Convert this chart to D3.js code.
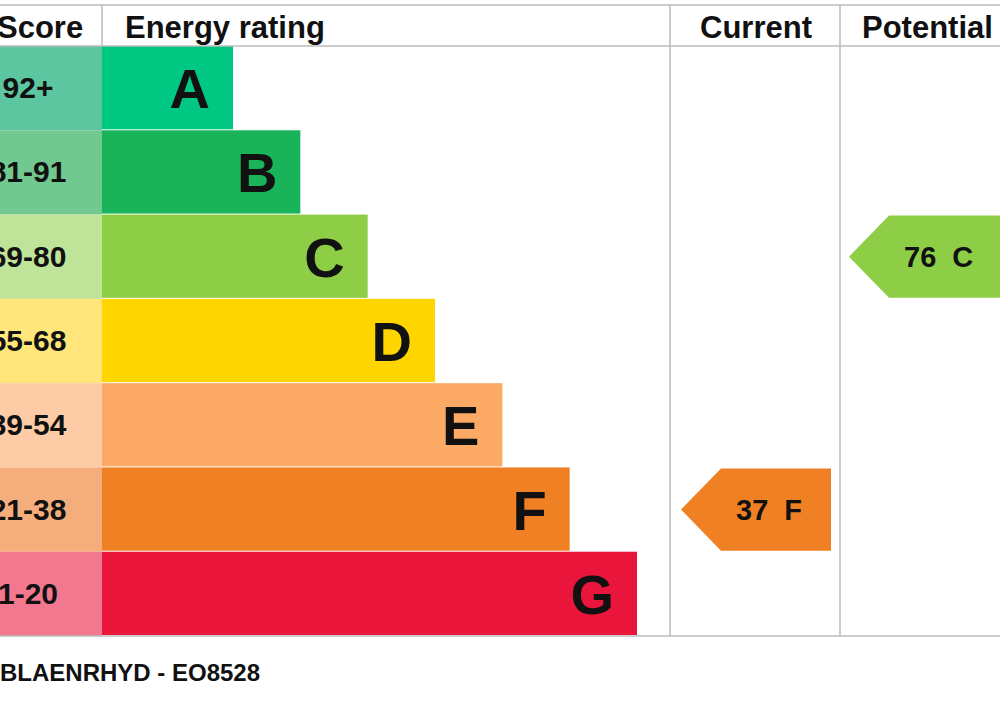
<!DOCTYPE html>
<html><head><meta charset="utf-8">
<script src="https://cdn.jsdelivr.net/npm/d3@7"></script>
<style>body{margin:0;background:#fff}svg{display:block}text{font-family:"Liberation Sans",Arial,sans-serif;font-weight:bold;fill:#111}</style>
</head><body><svg width="1000" height="707"></svg>
<script>
var bands = ['A', 'B', 'C', 'D', 'E', 'F', 'G'];
var scores = ['92+', '81-91', '69-80', '55-68', '39-54', '21-38', '1-20'];
var colors = ['#00c781', '#19b459', '#8dce46', '#ffd500', '#fcaa65', '#ef8023', '#e9153b'];
var lightColors = ['#5cc6a0', '#72c98f', '#c0e39a', '#ffe57a', '#fdcca6', '#f5ad7c', '#f27890'];
var current = 37, currentBand = 'F';
var potential = 76, potentialBand = 'C';
var footer = 'BLAENRHYD - EO8528';

var svg = d3.select('svg');
var y = d3.scaleBand().domain(bands).range([46, 636]);
// each band one step wider than the previous
var x = d3.scaleLinear().domain([0, bands.length - 1]).range([233, 637]);

// score column
svg.selectAll('rect.score').data(bands).enter().append('rect')
  .attr('x', 0).attr('y', d => y(d)).attr('width', 102).attr('height', y.bandwidth())
  .attr('fill', (d, i) => lightColors[i]);
svg.selectAll('text.score').data(scores).enter().append('text')
  .attr('x', 28).attr('y', (d, i) => y(bands[i]) + y.bandwidth() / 2 + 10)
  .attr('text-anchor', 'middle').attr('font-size', 30).text(d => d);

// bars
svg.selectAll('rect.bar').data(bands).enter().append('rect')
  .attr('x', 102).attr('y', d => y(d)).attr('width', (d, i) => x(i) - 102)
  .attr('height', y.bandwidth() - 1).attr('fill', (d, i) => colors[i]);
svg.selectAll('text.bar').data(bands).enter().append('text')
  .attr('x', (d, i) => x(i) - 23).attr('y', d => y(d) + y.bandwidth() / 2 + 20)
  .attr('text-anchor', 'end').attr('font-size', 56).text(d => d);

// grid lines
var g = '#bbb';
[[0, 5, 1000, 5], [0, 46, 1000, 46], [0, 636, 1000, 636], [102, 5, 102, 46],
 [670, 5, 670, 636], [840, 5, 840, 636]].forEach(l =>
  svg.append('line').attr('x1', l[0]).attr('y1', l[1]).attr('x2', l[2]).attr('y2', l[3])
    .attr('stroke', g).attr('stroke-width', 1.5));

// headers
svg.append('text').attr('x', -3).attr('y', 38).attr('font-size', 31).text('Score');
svg.append('text').attr('x', 125).attr('y', 38).attr('font-size', 31).text('Energy rating');
svg.append('text').attr('x', 756).attr('y', 38).attr('font-size', 31).attr('text-anchor', 'middle').text('Current');
svg.append('text').attr('x', 862).attr('y', 38).attr('font-size', 31).text('Potential');

function arrow(x0, x1, band, value) {
  var t = y(band) + 1, b = y(band) + y.bandwidth() - 1, m = (t + b) / 2;
  var i = bands.indexOf(band);
  svg.append('path').attr('d', `M${x0},${m}L${x0 + 40},${t}L${x1},${t}L${x1},${b}L${x0 + 40},${b}Z`)
    .attr('fill', colors[i]);
  svg.append('text').attr('x', x0 + 55).attr('y', m + 10).attr('font-size', 29)
    .attr('xml:space', 'preserve').text(value + '  ' + band);
}
arrow(681, 831, currentBand, current);
arrow(849, 1000, potentialBand, potential);

svg.append('text').attr('x', 0).attr('y', 681).attr('font-size', 24).text(footer);
</script></body></html>
